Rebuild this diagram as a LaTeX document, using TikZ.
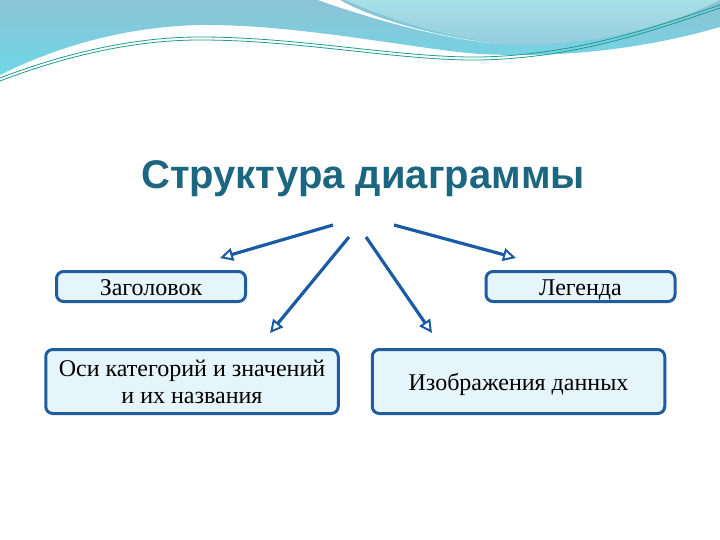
\documentclass[tikz,border=0pt]{standalone}
\usepackage{fontspec}
\setmainfont{Liberation Serif}
\newfontfamily\titlefont{Liberation Sans}
\usetikzlibrary{arrows.meta}
\definecolor{titleteal}{HTML}{1B6680}
\definecolor{boxblue}{HTML}{1F5DA0}
\definecolor{boxfill}{HTML}{E6F5FC}
\definecolor{arrowblue}{HTML}{1A5BA5}
\definecolor{wavetop}{HTML}{8CC2D6}
\definecolor{wavelow}{HTML}{6ED8E6}
\definecolor{wavelight}{HTML}{A8E0E8}
\definecolor{waveline}{HTML}{1E9C90}

\begin{document}
\begin{tikzpicture}[
    x=1pt, y=-1pt,
    box/.style={draw=boxblue, line width=3pt, fill=boxfill, rounded corners=7pt,
        align=center, font=\fontsize{24}{27}\selectfont, inner sep=2pt,
        text depth=0pt},
    smallbox/.style={box, minimum width=189pt, minimum height=30pt,
        text height=17pt},
    bigbox/.style={box, minimum width=292.5pt, minimum height=64pt},
    arrowline/.style={arrowblue, line width=3.2pt,
        -{Triangle[length=13pt, width=13pt, fill=white, line width=2pt]}}
    ]
    \useasboundingbox (0,0) rectangle (720,540);
    \fill[white] (0,0) rectangle (720,540);

    % wave at the top
    \shade[top color=wavetop, bottom color=wavelow]
        (0,0) -- (720,0) -- (720,27) .. controls (640,50) and (560,58) .. (480,54)
        .. controls (420,50) and (300,24) .. (200,25)
        .. controls (110,27) and (40,55) .. (0,75) -- cycle;
    \fill[white] (318,0) .. controls (380,22) and (450,40) .. (500,44)
        .. controls (440,38) and (370,18) .. (340,0) -- cycle;
    \shade[top color=wavelight, bottom color=wavetop!70!wavelight]
        (345,0) .. controls (390,20) and (450,38) .. (505,44)
        .. controls (580,48) and (660,30) .. (720,0) -- cycle;
    \foreach \d in {0,3}{
    \draw[waveline, line width=0.8pt] (0,78+\d) .. controls (60,55+\d) and (130,37+\d) .. (200,37+\d)
        .. controls (300,37+\d) and (400,58+\d) .. (480,57+\d)
        .. controls (580,55+\d) and (660,25+\d) .. (720,5+\d);
    }

    \node[font=\titlefont\bfseries\fontsize{40}{46}\selectfont, text=titleteal]
        (title) at (363,179) {Структура диаграммы};

    \node[smallbox] (zag) at (151,286.5) {Заголовок};
    \node[smallbox] (leg) at (580.5,286.5) {Легенда};
    \node[bigbox] (osi) at (192,381.5) {Оси категорий и значений\\и их названия};
    \node[bigbox, text height=17pt] (izo) at (518.5,381.5) {Изображения данных};

    \coordinate (s1) at (333,225);
    \coordinate (s2) at (349,237);
    \coordinate (s3) at (366,237);
    \coordinate (s4) at (394,225);
    \coordinate (e1) at (220,258);
    \coordinate (e2) at (270,333);
    \coordinate (e3) at (432,333);
    \coordinate (e4) at (516,258);

    \draw[arrowline] (s1) -- (e1);
    \draw[arrowline] (s2) -- (e2);
    \draw[arrowline] (s3) -- (e3);
    \draw[arrowline] (s4) -- (e4);
\end{tikzpicture}
\end{document}
